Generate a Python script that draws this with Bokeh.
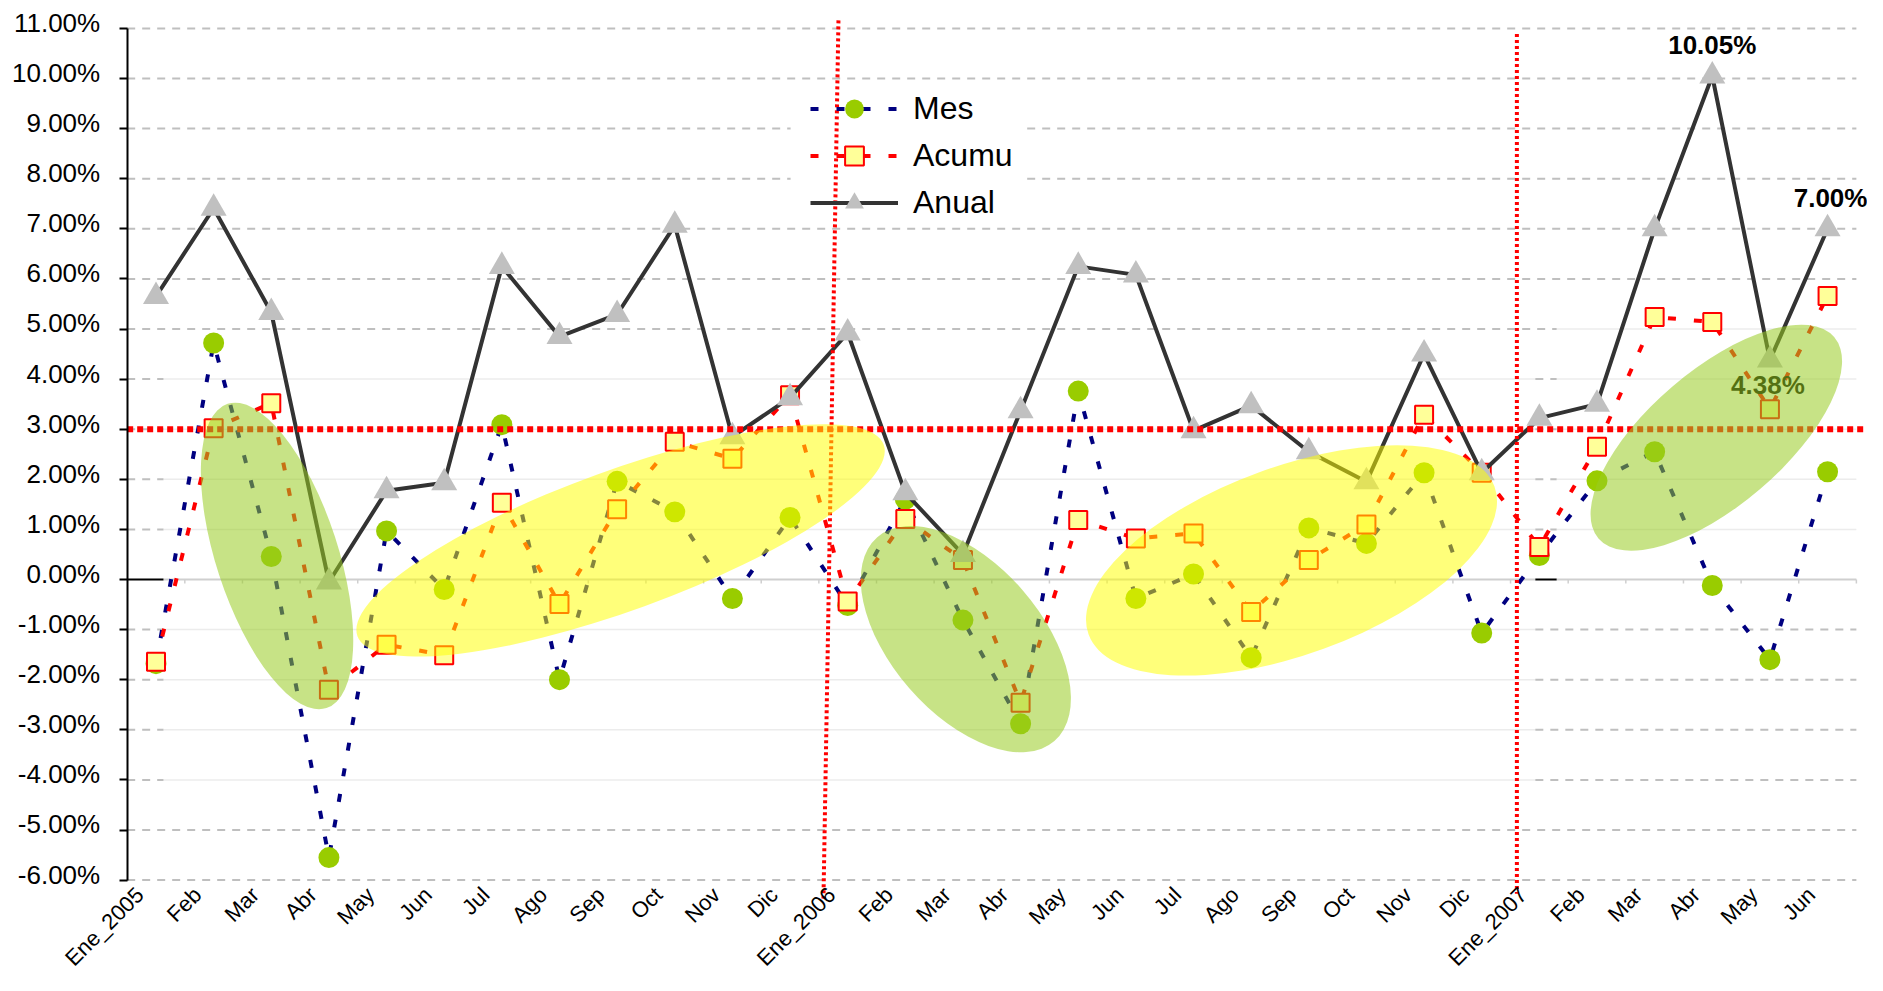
import math
from bokeh.plotting import figure
from bokeh.models import Range1d, FixedTicker, Legend, LegendItem, LinearAxis
from bokeh.core.properties import value
from bokeh.embed import file_html
from bokeh.resources import INLINE

# ---------------- data ----------------
categories = ["Ene_2005", "Feb", "Mar", "Abr", "May", "Jun", "Jul", "Ago", "Sep", "Oct", "Nov", "Dic",
              "Ene_2006", "Feb", "Mar", "Abr", "May", "Jun", "Jul", "Ago", "Sep", "Oct", "Nov", "Dic",
              "Ene_2007", "Feb", "Mar", "Abr", "May", "Jun"]
mes = [-1.68, 4.72, 0.46, -5.55, 0.97, -0.20, 3.09, -2.00, 1.96, 1.35, -0.38, 1.24,
       -0.52, 1.60, -0.81, -2.88, 3.76, -0.38, 0.11, -1.56, 1.03, 0.72, 2.13, -1.07,
       0.48, 1.97, 2.55, -0.12, -1.60, 2.15]
acumu = [-1.64, 3.02, 3.52, -2.20, -1.30, -1.51, 1.53, -0.49, 1.40, 2.75, 2.41, 3.68,
         -0.44, 1.21, 0.39, -2.46, 1.19, 0.82, 0.92, -0.65, 0.39, 1.10, 3.29, 2.13,
         0.65, 2.65, 5.24, 5.14, 3.40, 5.66]
anual = [5.65, 7.41, 5.33, -0.05, 1.77, 1.93, 6.25, 4.85, 5.29, 7.07, 2.85, 3.63,
         4.92, 1.73, 0.50, 3.37, 6.25, 6.08, 2.97, 3.47, 2.55, 1.95, 4.50, 2.13,
         3.22, 3.50, 7.00, 10.05, 4.38, 7.00]
y_ticks = list(range(-6, 12))
labelled_idx = [27, 28, 29]          # Anual points carrying a data label
reference_level = 3.0                # horizontal dotted reference line (%)
year_starts = [12, 24]               # "Ene_2006", "Ene_2007"

# ---------------- layout / annotation geometry (not data) ----------------
W, H = 1867, 975
PX_CAT, PX_PCT = 57.64, 50.1      # pixels per category / per percent
CAT0_PX, ZERO_PX = 155.5, 579.0   # pixel position of first category / of 0 %
x0 = (0 - CAT0_PX) / PX_CAT
x1 = (W - CAT0_PX) / PX_CAT
y1 = ZERO_PX / PX_PCT
y0 = (ZERO_PX - H) / PX_PCT
x_first, x_last = -0.5, len(categories) - 0.5

faint_zones = [(0.13, 23.93, -4.3, 4.1), (24.30, x_last, -0.3, 5.8)]
vline_dx_top = [-0.16, -0.39]
vline_dx_bot = [-0.42, -0.39]
vline_y_top = [11.16, 10.89]
vline_y_bot = [-6.37, -6.27]
ell_x = [2.10, 8.06, 14.05, 19.70, 27.07]
ell_y = [0.47, 0.78, -1.19, 0.38, 2.83]
ell_major = [320, 560, 270, 432, 310]
ell_minor = [122, 140, 150, 188, 135]
ell_angle = [108, 20, -49, 20, 40.5]
ell_color = ["#99CC22", "#FFFF00", "#99CC22", "#FFFF00", "#99CC22"]
ell_alpha = [0.55, 0.52, 0.55, 0.52, 0.55]
XLAB_SHIFT = -0.28
YLAB_SHIFT = 0.11

FONT = "Liberation Sans"

p = figure(width=W, height=H, output_backend="svg", toolbar_location=None,
           x_range=Range1d(x0, x1), y_range=Range1d(y0, y1),
           min_border_left=0, min_border_right=0, min_border_top=0, min_border_bottom=0,
           outline_line_color=None, background_fill_color="white", border_fill_color="white")
p.xgrid.visible = False
p.ygrid.visible = False

# y axis: line + ticks
ya = p.yaxis[0]
ya.fixed_location = x_first
ya.ticker = FixedTicker(ticks=y_ticks)
ya.bounds = (min(y_ticks), max(y_ticks))
ya.axis_line_color = "black"
ya.axis_line_width = 2
ya.major_tick_out = 8
ya.major_tick_in = 0
ya.major_tick_line_width = 2
ya.major_tick_line_color = "black"
ya.minor_tick_out = 0
ya.minor_tick_in = 0
ya.major_label_text_color = None

# y axis: labels (slightly raised, as in the original)
lab_ticks = [v + YLAB_SHIFT for v in y_ticks]
yl = LinearAxis(fixed_location=x_first, ticker=FixedTicker(ticks=lab_ticks),
                major_label_overrides={t: "%.2f%%" % v for t, v in zip(lab_ticks, y_ticks)},
                axis_line_color=None, major_tick_line_color=None, minor_tick_line_color=None,
                major_tick_out=0, major_tick_in=0, minor_tick_out=0, minor_tick_in=0,
                major_label_standoff=27, major_label_text_font=FONT,
                major_label_text_font_size="26px", major_label_text_color="black")
p.add_layout(yl, "left")

# x axis (labels only)
xa = p.xaxis[0]
xa.fixed_location = min(y_ticks)
xt = [i + XLAB_SHIFT for i in range(len(categories))]
xa.ticker = FixedTicker(ticks=xt)
xa.major_label_overrides = {t: c for t, c in zip(xt, categories)}
xa.major_label_orientation = math.pi / 4
xa.axis_line_color = None
xa.major_tick_line_color = None
xa.minor_tick_line_color = None
xa.major_tick_out = 0
xa.major_tick_in = 0
xa.minor_tick_out = 0
xa.minor_tick_in = 0
xa.major_label_standoff = 11
xa.major_label_text_font = FONT
xa.major_label_text_font_size = "22px"
xa.major_label_text_color = "black"

# ---------------- grid lines ----------------
def split(level):
    faint = sorted((a, b) for (a, b, lo, hi) in faint_zones if lo <= level <= hi)
    solid, start = [], x_first
    for a, b in faint:
        if a > start:
            solid.append((start, a))
        start = b
    if start < x_last:
        solid.append((start, x_last))
    return solid, faint

dx0, dx1, dy, fx0, fx1, fy = [], [], [], [], [], []
zx0, zx1, zfx0, zfx1 = [], [], [], []
for v in y_ticks:
    solid, faint = split(v)
    if v == 0:
        zx0 += [a for a, b in solid]; zx1 += [b for a, b in solid]
        zfx0 += [a for a, b in faint]; zfx1 += [b for a, b in faint]
        continue
    for a, b in solid:
        dx0.append(a); dx1.append(b); dy.append(v)
    for a, b in faint:
        fx0.append(a); fx1.append(b); fy.append(v)

p.segment(x0=fx0, y0=fy, x1=fx1, y1=fy, line_color="#ECECEC", line_width=1.5)
p.segment(x0=dx0, y0=dy, x1=dx1, y1=dy, line_color="#BFBFBF", line_width=2, line_dash="8 7")
p.segment(x0=zfx0, y0=[0] * len(zfx0), x1=zfx1, y1=[0] * len(zfx1), line_color="#CFCFCF", line_width=2)
p.segment(x0=zx0, y0=[0] * len(zx0), x1=zx1, y1=[0] * len(zx1), line_color="black", line_width=2)
bounds = [i + 0.5 for i in range(len(categories))]
p.segment(x0=bounds, y0=[0] * len(bounds), x1=bounds, y1=[-4 / PX_PCT] * len(bounds),
          line_color="#CFCFCF", line_width=1.5)

# white backing behind the legend
p.quad(left=[11.01], right=[15.09], bottom=[7.13], top=[9.66], fill_color="white", line_color=None)

xs = list(range(len(categories)))

# ---------------- series ----------------
mes_line = p.line(xs, mes, line_color="#000080", line_width=4, line_dash="8 18")
mes_pts = p.scatter(xs, mes, marker="circle", size=21, fill_color="#99CC00", line_color=None)

acu_line = p.line(xs, acumu, line_color="#FF0000", line_width=4, line_dash="8 18")
acu_pts = p.scatter(xs, acumu, marker="square", size=18, fill_color="#FFFF99",
                    line_color="#FF0000", line_width=2)

anu_line = p.line(xs, anual, line_color="#333333", line_width=4, line_join="round")
anu_pts = p.scatter(xs, anual, marker="triangle", size=26, fill_color="#C0C0C0", line_color=None)

# data labels
lab_x = labelled_idx
lab_y = [anual[i] for i in labelled_idx]
lab_t = ["%.2f%%" % anual[i] for i in labelled_idx]
lab_dx = [0, -2, 3]
lab_dy = [-31, 25, -31]
p.text(x=lab_x, y=lab_y, text=lab_t, x_offset=lab_dx, y_offset=lab_dy,
       text_align="center", text_baseline="alphabetic",
       text_font=value(FONT), text_font_style="bold", text_font_size="26px", text_color="black")

# ---------------- reference lines ----------------
p.segment(x0=[x_first], y0=[reference_level], x1=[x1], y1=[reference_level],
          line_color="#FF0000", line_width=6, line_dash="6 4")
vx_top = [c + d for c, d in zip(year_starts, vline_dx_top)]
vx_bot = [c + d for c, d in zip(year_starts, vline_dx_bot)]
p.segment(x0=vx_top, y0=vline_y_top, x1=vx_bot, y1=vline_y_bot,
          line_color="#FF0000", line_width=4, line_dash="3 3")

# ---------------- highlight ellipses ----------------
p.ellipse(x=ell_x, y=ell_y, width=ell_major, height=ell_minor,
          angle=[math.radians(a) for a in ell_angle],
          width_units="screen", height_units="screen",
          fill_color=ell_color, fill_alpha=ell_alpha, line_color=None)

# ---------------- legend ----------------
legend = Legend(items=[LegendItem(label="Mes", renderers=[mes_line, mes_pts]),
                       LegendItem(label="Acumu", renderers=[acu_line, acu_pts]),
                       LegendItem(label="Anual", renderers=[anu_line, anu_pts])],
                location=(810, 749), orientation="vertical",
                glyph_width=88, glyph_height=47, label_height=47, label_standoff=15,
                spacing=0, padding=0, margin=0,
                label_text_font=FONT, label_text_font_size="32px", label_text_color="black",
                background_fill_alpha=0, border_line_alpha=0)
p.add_layout(legend)

open("out.html", "w").write(file_html(p, INLINE))
